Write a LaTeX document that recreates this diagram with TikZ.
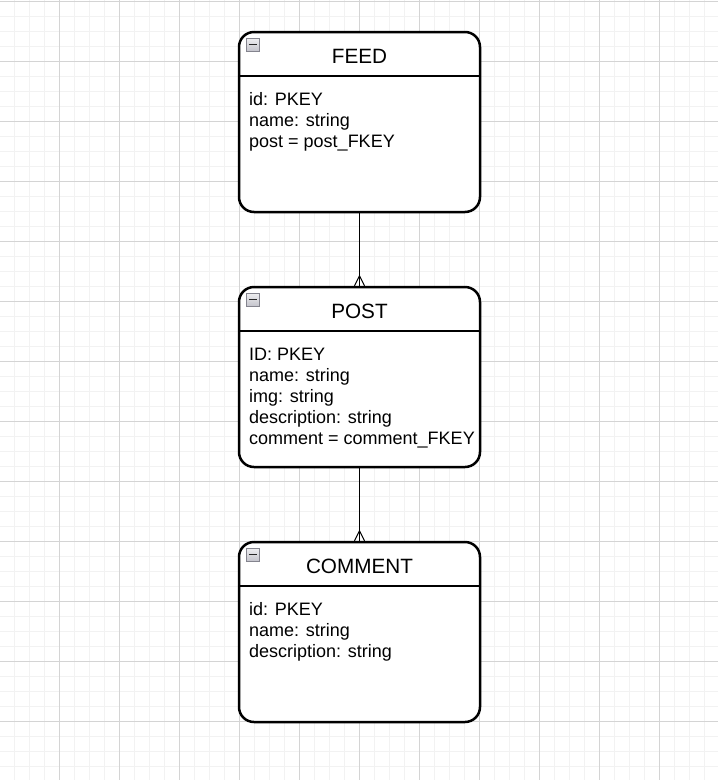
\documentclass[tikz,border=0pt]{standalone}
\usepackage{fontspec}
\setmainfont{Liberation Sans}
\definecolor{gridminor}{HTML}{F2F2F2}
\definecolor{gridmajor}{HTML}{D4D4D4}
\definecolor{iconfill}{HTML}{C4C4CC}
\definecolor{iconborder}{HTML}{84848E}
\tikzset{
  entity/.style={draw=black, line width=2.5pt, rounded corners=15pt, fill=white,
    minimum width=241pt, minimum height=180pt, inner sep=0pt},
  headrule/.style={line width=2.5pt},
  title/.style={font=\fontsize{20.7}{24}\selectfont, anchor=base},
  attr/.style={font=\fontsize{18}{21}\selectfont, anchor=base west, inner sep=0pt},
  rel/.style={line width=1.1pt},
  icon/.style={draw=iconborder, line width=0.9pt, top color=white!70!iconfill, bottom color=iconfill,
    minimum width=12.5pt, minimum height=12.5pt, inner sep=0pt},
}
\begin{document}
\begin{tikzpicture}[x=1pt,y=-1pt]
\useasboundingbox (0,0) rectangle (718,780);
% grid
\foreach \i in {0,...,48} {
  \draw[gridminor, line width=1pt] ({-1+15*\i},0) -- ({-1+15*\i},780);
}
\foreach \j in {0,...,52} {
  \draw[gridminor, line width=1pt] (0,{1+15*\j}) -- (718,{1+15*\j});
}
\foreach \i in {0,...,12} {
  \draw[gridmajor, line width=1pt] ({59+60*\i},0) -- ({59+60*\i},780);
}
\foreach \j in {0,...,13} {
  \draw[gridmajor, line width=1pt] (0,{1+60*\j}) -- (718,{1+60*\j});
}

% entities
\node[entity] (feed) at (359.5,122) {};
\node[entity] (post) at (359.5,377) {};
\node[entity] (comment) at (359.5,632) {};

\foreach \e in {feed,post,comment} {
  \draw[headrule] ([yshift=-45pt]\e.north west) -- ([yshift=-45pt]\e.north east);
  \node[icon] (icon-\e) at ([xshift=15pt,yshift=-14pt]\e.north west) {};
  \draw[line width=1.3pt, black!85] ([xshift=-4pt]icon-\e.center) -- ([xshift=4pt]icon-\e.center);
}

% titles
\node[title] (feedtitle) at (359.5,63.5) {FEED};
\node[title] (posttitle) at (359.5,318.5) {POST};
\node[title] (commenttitle) at (359.5,573.5) {COMMENT};

% attributes
\node[attr] (f1) at (249,105) {id: PKEY};
\node[attr] (f2) at (249,126) {name: string};
\node[attr] (f3) at (249,147) {post = post\_FKEY};

\node[attr] (p1) at (249,360) {ID: PKEY};
\node[attr] (p2) at (249,381) {name: string};
\node[attr] (p3) at (249,402) {img: string};
\node[attr] (p4) at (249,423) {description: string};
\node[attr] (p5) at (249,444) {comment = comment\_FKEY};

\node[attr] (c1) at (249,615) {id: PKEY};
\node[attr] (c2) at (249,636) {name: string};
\node[attr] (c3) at (249,657) {description: string};

% relations with crow's foot
\foreach \a/\b in {feed/post,post/comment} {
  \draw[rel] (\a.south) -- (\b.north);
  \draw[rel] ([yshift=10pt]\b.north) -- ([xshift=-5pt]\b.north);
  \draw[rel] ([yshift=10pt]\b.north) -- ([xshift=5pt]\b.north);
}
\end{tikzpicture}
\end{document}
